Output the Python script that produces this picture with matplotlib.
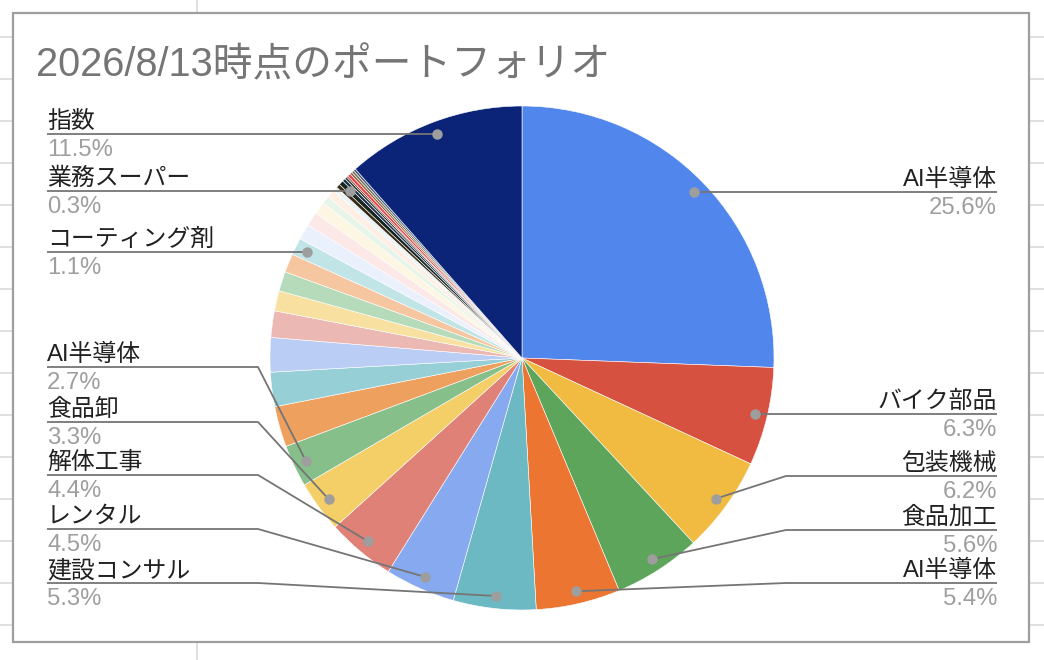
import matplotlib
matplotlib.use("Agg")
import matplotlib.pyplot as plt
import numpy as np
from matplotlib.patches import Rectangle

plt.rcParams['font.family'] = ['Liberation Sans', 'Noto Sans CJK JP', 'DejaVu Sans']

# ---------------- data ----------------
title = "2026/8/13時点のポートフォリオ"

names = [
    "AI半導体", "バイク部品", "包装機械", "食品加工", "AI半導体", "建設コンサル",
    "レンタル", "解体工事", "食品卸", "AI半導体",
    None, None, None, None, None, None, None,
    "コーティング剤",
    None, None, None, None, None, None,
    None, "業務スーパー", None, None, None, None, None, None, None,
    "指数",
]
values = [
    25.6, 6.3, 6.2, 5.6, 5.4, 5.3,
    4.5, 4.4, 3.3, 2.7,
    2.6, 2.2, 2.2, 1.7, 1.3, 1.25, 1.2,
    1.1,
    1.0, 0.9, 0.8, 0.5, 0.5, 0.3,
    0.25, 0.3, 0.2, 0.15, 0.1, 0.2, 0.15, 0.15, 0.15,
    11.5,
]
colors = [
    "#5187EC", "#D75140", "#F1BB41", "#5DA55B", "#EB7531", "#6CB9C3",
    "#86A9EF", "#DF8177", "#F4CE66", "#86BF8A",
    "#EEA05E", "#97CFD6", "#B9CDF5", "#EBB8B3", "#F8E1A0", "#B6DBBA", "#F6C6A0",
    "#C1E4E7",
    "#EAF1FC", "#FBE8E7", "#FDF6E2", "#E7F4E8", "#FEEEE3", "#E9F5F6",
    "#3A2A14", "#14261F", "#1F2F4F", "#2E3D2A", "#7A1F1F", "#E8474A", "#A05A3C", "#6B7355", "#4A5A7A",
    "#0B2478",
]

# label layout: index -> (side, line y or None for straight)
label_layout = {
    0: ("right", None),
    1: ("right", None),
    2: ("right", 476),
    3: ("right", 530),
    4: ("right", 583),
    5: ("left", 583),
    6: ("left", 529),
    7: ("left", 475),
    8: ("left", 422),
    9: ("left", 367),
    17: ("left", None),
    25: ("left", None),
    33: ("left", None),
}

# ---------------- figure ----------------
W, H = 1044, 660
fig = plt.figure(figsize=(W / 100, H / 100), dpi=100)
fig.patch.set_facecolor("white")

CX, CY, R = 522, 358, 252
ax = fig.add_axes([(CX - R) / W, (H - CY - R) / H, 2 * R / W, 2 * R / H])
wedges, _ = ax.pie(values, colors=colors, startangle=90, counterclock=False,
                   radius=1, wedgeprops=dict(linewidth=0.4, edgecolor="white"))
ax.set_xlim(-1, 1)
ax.set_ylim(-1, 1)
ax.set_aspect("equal")
ax.axis("off")

ov = fig.add_axes([0, 0, 1, 1])
ov.set_xlim(0, W)
ov.set_ylim(H, 0)
ov.axis("off")

# spreadsheet grid outside the chart
grid_c = "#E0E0E0"
for gy in range(37, 640, 42):
    ov.plot([0, 12], [gy, gy], color=grid_c, lw=1.4, zorder=0)
    ov.plot([1030, W], [gy, gy], color=grid_c, lw=1.4, zorder=0)
ov.plot([197, 197], [0, 12], color=grid_c, lw=1.4, zorder=0)
ov.plot([197, 197], [644, H], color=grid_c, lw=1.4, zorder=0)

# chart border
ov.add_patch(Rectangle((13, 13), 1016, 629, fill=False, edgecolor="#9E9E9E", lw=1.6, zorder=1))

# title
ov.text(36, 76, title, fontsize=28.6, color="#757575", ha="left", va="baseline")

total = float(np.sum(values))
LINE_C = "#757575"
DOT_C = "#9E9E9E"
FS = 17.2
for idx, (side, ly) in label_layout.items():
    w = wedges[idx]
    mid = np.deg2rad((w.theta1 + w.theta2) / 2.0)
    dx = CX + 0.95 * R * np.cos(mid)
    dy = CY - 0.95 * R * np.sin(mid)
    if side == "right":
        tx = 997
        if ly is None:
            ly = dy
            xs, ys = [dx, tx], [dy, ly]
        else:
            xs, ys = [dx, 786, tx], [dy, ly, ly]
        ha = "right"
    else:
        tx = 47
        if ly is None:
            ly = dy
            xs, ys = [tx, dx], [ly, dy]
        else:
            xs, ys = [tx, 258, dx], [ly, ly, dy]
        ha = "left"
    ov.plot(xs, ys, color=LINE_C, lw=1.3, zorder=3, solid_capstyle="butt")
    ov.plot([dx], [dy], "o", color=DOT_C, markersize=6.5, zorder=4)
    ov.text(tx, ly - 6, names[idx], fontsize=FS, color="#212121", ha=ha, va="baseline")
    ov.text(tx, ly + 22, f"{values[idx] / total * 100:.1f}%", fontsize=FS,
            color="#9E9E9E", ha=ha, va="baseline")

fig.savefig("out.png", dpi=100)
